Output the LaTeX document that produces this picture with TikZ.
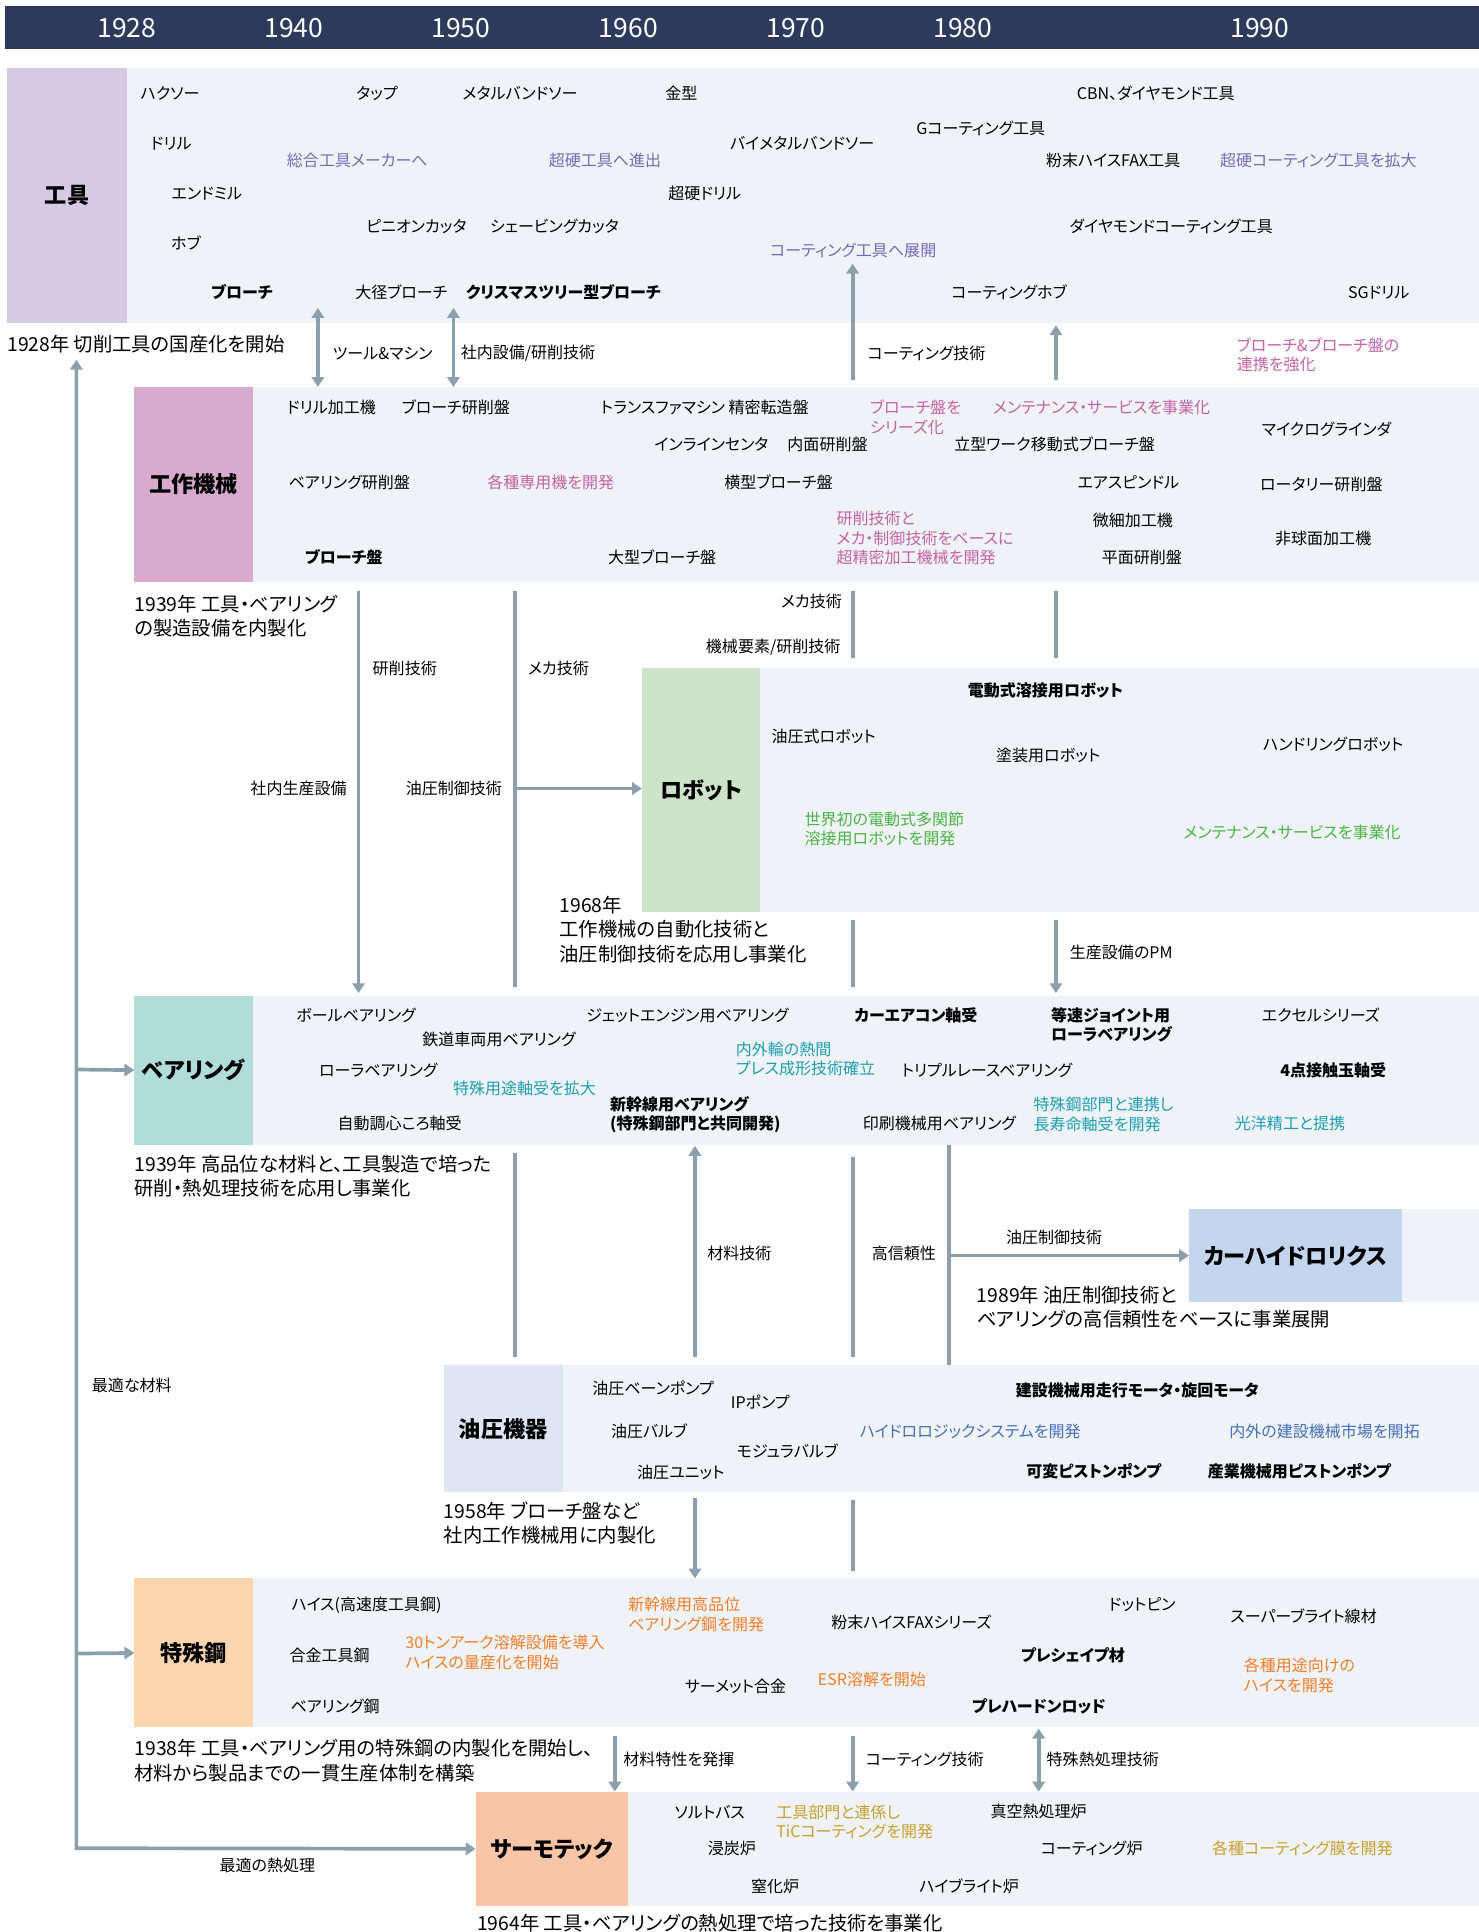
\documentclass[tikz,border=0pt]{standalone}
\usepackage{fontspec}
\setmainfont{Noto Sans CJK JP}[RawFeature=+palt]
\usetikzlibrary{arrows.meta}
\definecolor{cHead}{RGB}{46,58,92}
\definecolor{cBg}{RGB}{239,243,247}
\definecolor{cLine}{RGB}{139,159,172}
\definecolor{bTool}{RGB}{213,201,227}
\definecolor{bMach}{RGB}{215,170,206}
\definecolor{bRobo}{RGB}{205,228,202}
\definecolor{bBear}{RGB}{176,220,218}
\definecolor{bCarH}{RGB}{196,214,238}
\definecolor{bHyd}{RGB}{220,230,244}
\definecolor{bSteel}{RGB}{251,213,174}
\definecolor{bTherm}{RGB}{248,198,166}
\definecolor{xTool}{RGB}{123,104,184}
\definecolor{xMach}{RGB}{196,98,166}
\definecolor{xRobo}{RGB}{76,180,71}
\definecolor{xBear}{RGB}{30,158,178}
\definecolor{xHyd}{RGB}{70,112,186}
\definecolor{xSteel}{RGB}{240,127,42}
\definecolor{xTherm}{RGB}{201,160,46}
\begin{document}
\begin{tikzpicture}[x=1pt,y=-1pt,
  t/.style={font=\fontsize{13}{16}\selectfont, inner sep=0pt},
  tb/.style={font=\fontsize{13}{16}\selectfont\bfseries, inner sep=0pt},
  ml/.style={align=left, anchor=west},
  note/.style={font=\fontsize{15.7}{19.7}\selectfont, inner sep=0pt, align=left, anchor=west},
  box/.style={inner sep=0pt, outer sep=0pt, anchor=north west, draw=none, font=\fontsize{18}{22}\selectfont\bfseries},
  yr/.style={font=\fontsize{21.5}{24}\selectfont, text=white, inner sep=0pt},
  conn/.style={draw=cLine, line width=3pt},
  arr/.style={conn, -{Triangle[width=10pt,length=8pt]}},
  darr/.style={conn, {Triangle[width=10pt,length=8pt]}-{Triangle[width=10pt,length=8pt]}},
]
\useasboundingbox (0,0) rectangle (1200,1568);

% header
\node[box, fill=cHead, minimum width=1196pt, minimum height=35pt] (head) at (4,5) {};
\node[yr] (y1) at (103,22.6) {1928};
\node[yr] (y2) at (238.5,22.6) {1940};
\node[yr] (y3) at (374,22.6) {1950};
\node[yr] (y4) at (510,22.6) {1960};
\node[yr] (y5) at (646,22.6) {1970};
\node[yr] (y6) at (781.5,22.6) {1980};
\node[yr] (y7) at (1022.5,22.6) {1990};

% section boxes
\node[box, fill=cBg, minimum width=1097pt, minimum height=207pt] (toolbg) at (103,55) {};
\node[box, fill=bTool, minimum width=97pt, minimum height=207pt] (tool) at (6,55) {工具};
\node[box, fill=cBg, minimum width=995pt, minimum height=158pt] (machbg) at (205,314) {};
\node[box, fill=bMach, minimum width=96pt, minimum height=158pt] (mach) at (109,314) {工作機械};
\node[box, fill=cBg, minimum width=583pt, minimum height=198pt] (robobg) at (617,542) {};
\node[box, fill=bRobo, minimum width=96pt, minimum height=198pt] (robo) at (521,542) {ロボット};
\node[box, fill=cBg, minimum width=995pt, minimum height=121pt] (bearbg) at (205,808) {};
\node[box, fill=bBear, minimum width=96pt, minimum height=121pt] (bear) at (109,808) {ベアリング};
\node[box, fill=cBg, minimum width=62pt, minimum height=76pt] (carhbg) at (1138,981) {};
\node[box, fill=bCarH, minimum width=173pt, minimum height=76pt] (carh) at (965,981) {カーハイドロリクス};
\node[box, fill=cBg, minimum width=743pt, minimum height=103pt] (hydbg) at (457,1108) {};
\node[box, fill=bHyd, minimum width=97pt, minimum height=103pt] (hyd) at (360,1108) {油圧機器};
\node[box, fill=cBg, minimum width=995pt, minimum height=121pt] (steelbg) at (205,1281) {};
\node[box, fill=bSteel, minimum width=96pt, minimum height=121pt] (steel) at (109,1281) {特殊鋼};
\node[box, fill=cBg, minimum width=690pt, minimum height=93pt] (thermbg) at (510,1454) {};
\node[box, fill=bTherm, minimum width=124pt, minimum height=93pt] (therm) at (386,1454) {サーモテック};

% tools
\node[t] (k1) at (138,76) {ハクソー};
\node[t] (k2) at (306,76) {タップ};
\node[t] (k3) at (422,76) {メタルバンドソー};
\node[t] (k4) at (553,76) {金型};
\node[t] (k5) at (938,76) {CBN、ダイヤモンド工具};
\node[t] (k6) at (796,104) {Gコーティング工具};
\node[t] (k7) at (139,117) {ドリル};
\node[t] (k8) at (651,116) {バイメタルバンドソー};
\node[t,text=xTool] (k9) at (290,130.5) {総合工具メーカーへ};
\node[t,text=xTool] (k10) at (491,130.5) {超硬工具へ進出};
\node[t] (k11) at (903.5,130.5) {粉末ハイスFAX工具};
\node[t,text=xTool] (k12) at (1070,130.5) {超硬コーティング工具を拡大};
\node[t] (k13) at (168,157) {エンドミル};
\node[t] (k14) at (572,157) {超硬ドリル};
\node[t] (k15) at (338,184) {ピニオンカッタ};
\node[t] (k16) at (450,184) {シェービングカッタ};
\node[t] (k17) at (950.5,184) {ダイヤモンドコーティング工具};
\node[t] (k18) at (151,197) {ホブ};
\node[t,text=xTool] (k19) at (692.5,203) {コーティング工具へ展開};
\node[tb] (k20) at (196.5,237.3) {ブローチ};
\node[t] (k21) at (325.7,237.3) {大径ブローチ};
\node[tb] (k22) at (457.3,237.3) {クリスマスツリー型ブローチ};
\node[t] (k23) at (819,237.3) {コーティングホブ};
\node[t] (k24) at (1119,237.3) {SGドリル};

% tools -> machine connectors
\coordinate (c1a) at (258,250); \coordinate (c1b) at (258,314);
\coordinate (c2a) at (368,250); \coordinate (c2b) at (368,314);
\coordinate (c3a) at (692,308.5); \coordinate (c3b) at (692,214);
\coordinate (c4a) at (857,308.5); \coordinate (c4b) at (857,264);
\draw[darr] (c1a) -- (c1b);
\draw[darr] (c2a) -- (c2b);
\draw[arr] (c3a) -- (c3b);
\draw[arr] (c4a) -- (c4b);
\node[t] (l1) at (310.6,287) {ツール\&マシン};
\node[t] (l2) at (428.5,287) {社内設備/研削技術};
\node[t] (l3) at (752,287) {コーティング技術};
\node[t,ml,text=xMach] (l4) at (1003.6,288) {ブローチ\&ブローチ盤の\\連携を強化};
\node[note] (n1928) at (5.7,279) {1928年 切削工具の国産化を開始};

% left spine
\coordinate (sTop) at (62,292);
\coordinate (sBot) at (62,1500);
\coordinate (sBear) at (62,868);
\coordinate (sSteel) at (62,1342);
\draw[darr] (sTop) -- (sBot) -- (therm.west);
\draw[arr] (sBear) -- (bear.west);
\draw[arr] (sSteel) -- (steel.west);
\node[t] (l5) at (107,1124.5) {最適な材料};
\node[t] (l6) at (217,1514) {最適の熱処理};

% machine tools
\node[t] (m1) at (269,330.7) {ドリル加工機};
\node[t] (m2) at (370,330.7) {ブローチ研削盤};
\node[t] (m3) at (572,330.7) {トランスファマシン 精密転造盤};
\node[t,ml,text=xMach] (m4) at (706,338.5) {ブローチ盤を\\シリーズ化};
\node[t,text=xMach] (m5) at (894,330.5) {メンテナンス・サービスを事業化};
\node[t] (m6) at (577.4,360.5) {インラインセンタ};
\node[t] (m7) at (671.6,360.5) {内面研削盤};
\node[t] (m8) at (855.9,360.5) {立型ワーク移動式ブローチ盤};
\node[t] (m9) at (1076.6,348.6) {マイクログラインダ};
\node[t] (m10) at (283.5,391.6) {ベアリング研削盤};
\node[t,text=xMach] (m11) at (447,391.6) {各種専用機を開発};
\node[t] (m12) at (631.8,391.6) {横型ブローチ盤};
\node[t] (m13) at (915.8,391.6) {エアスピンドル};
\node[t] (m14) at (1072.4,393) {ロータリー研削盤};
\node[t,ml,text=xMach] (m15) at (678.8,436.8) {研削技術と\\メカ・制御技術をベースに\\超精密加工機械を開発};
\node[t] (m16) at (919.5,422.2) {微細加工機};
\node[t] (m17) at (1073.9,437) {非球面加工機};
\node[tb] (m18) at (279,452.3) {ブローチ盤};
\node[t] (m19) at (537.4,452.3) {大型ブローチ盤};
\node[t] (m20) at (926.8,452.3) {平面研削盤};
\node[note] (n1939a) at (109,500) {1939年 工具・ベアリング\\の製造設備を内製化};

% machine -> below connectors
\coordinate (d1a) at (291,480); \coordinate (d1b) at (291,806);
\coordinate (d2a) at (418,480); \coordinate (d2b) at (418,801); \coordinate (d2m) at (418,640);
\coordinate (d3a) at (692,480); \coordinate (d3b) at (692,534);
\coordinate (d4a) at (857,480); \coordinate (d4b) at (857,534);
\draw[arr] (d1a) -- (d1b);
\draw[conn] (d2a) -- (d2b);
\draw[arr] (d2m) -- (robo.west |- d2m);
\draw[conn] (d3a) -- (d3b);
\draw[conn] (d4a) -- (d4b);
\node[t] (l7) at (328.5,542.6) {研削技術};
\node[t] (l8) at (453.3,542.6) {メカ技術};
\node[t] (l9) at (242.3,640) {社内生産設備};
\node[t] (l10) at (368.4,640) {油圧制御技術};
\node[t] (l11) at (658.5,488.5) {メカ技術};
\node[t] (l12) at (627.5,525.5) {機械要素/研削技術};

% robot
\node[tb] (r1) at (848.5,560) {電動式溶接用ロボット};
\node[t] (r2) at (668.5,598) {油圧式ロボット};
\node[t] (r3) at (850.7,613) {塗装用ロボット};
\node[t] (r4) at (1082,604) {ハンドリングロボット};
\node[t,ml,text=xRobo] (r5) at (652.8,672.8) {世界初の電動式多関節\\溶接用ロボットを開発};
\node[t,text=xRobo] (r6) at (1048.6,675.5) {メンテナンス・サービスを事業化};
\node[note] (n1968) at (454,754.4) {1968年\\工作機械の自動化技術と\\油圧制御技術を応用し事業化};

\coordinate (e1a) at (692,747); \coordinate (e1b) at (692,801);
\coordinate (e2a) at (857,747); \coordinate (e2b) at (857,806);
\draw[conn] (e1a) -- (e1b);
\draw[arr] (e2a) -- (e2b);
\node[t] (l13) at (910,772.7) {生産設備のPM};

% bearing
\node[t] (b1) at (289,824) {ボールベアリング};
\node[t] (b2) at (405,844) {鉄道車両用ベアリング};
\node[t] (b3) at (558,824) {ジェットエンジン用ベアリング};
\node[tb] (b4) at (743.4,824) {カーエアコン軸受};
\node[tb,ml] (b5) at (852.8,831.8) {等速ジョイント用\\ローラベアリング};
\node[t] (b6) at (1072,824) {エクセルシリーズ};
\node[t] (b7) at (307,868.7) {ローラベアリング};
\node[t,ml,text=xBear] (b8) at (597,859.4) {内外輪の熱間\\プレス成形技術確立};
\node[t] (b9) at (801,868.7) {トリプルレースベアリング};
\node[tb] (b10) at (1082,868.7) {4点接触玉軸受};
\node[t,text=xBear] (b11) at (425.7,883.5) {特殊用途軸受を拡大};
\node[tb,ml] (b12) at (495,904.5) {新幹線用ベアリング\\(特殊鋼部門と共同開発)};
\node[t] (b13) at (324.4,912) {自動調心ころ軸受};
\node[t] (b14) at (762.4,912) {印刷機械用ベアリング};
\node[t,ml,text=xBear] (b15) at (838.7,904.7) {特殊鋼部門と連携し\\長寿命軸受を開発};
\node[t,text=xBear] (b16) at (1047,912) {光洋精工と提携};
\node[note] (n1939b) at (109,954.6) {1939年 高品位な材料と、工具製造で培った\\研削・熱処理技術を応用し事業化};

\coordinate (f1a) at (418,936); \coordinate (f1b) at (418,1101);
\coordinate (f2a) at (564,1101); \coordinate (f2b) at (564,930);
\coordinate (f3a) at (692,939); \coordinate (f3b) at (692,1101);
\coordinate (f4a) at (770,929); \coordinate (f4b) at (770,1108); \coordinate (f4m) at (770,1019);
\draw[conn] (f1a) -- (f1b);
\draw[arr] (f2a) -- (f2b);
\draw[conn] (f3a) -- (f3b);
\draw[conn] (f4a) -- (f4b);
\draw[arr] (f4m) -- (carh.west);
\node[t] (l14) at (600,1017) {材料技術};
\node[t] (l15) at (733.5,1017.6) {高信頼性};
\node[t] (l16) at (855.5,1004) {油圧制御技術};
\node[note] (n1989) at (792.6,1060.8) {1989年 油圧制御技術と\\ベアリングの高信頼性をベースに事業展開};

% hydraulics
\node[t] (h1) at (530,1127) {油圧ベーンポンプ};
\node[t] (h2) at (617,1138) {IPポンプ};
\node[t] (h3) at (526.8,1161.5) {油圧バルブ};
\node[t] (h4) at (639,1177.8) {モジュラバルブ};
\node[t] (h5) at (552.6,1194.8) {油圧ユニット};
\node[tb] (h6) at (923,1128.5) {建設機械用走行モータ・旋回モータ};
\node[t,text=xHyd] (h7) at (787.4,1161.8) {ハイドロロジックシステムを開発};
\node[t,text=xHyd] (h8) at (1075,1161.8) {内外の建設機械市場を開拓};
\node[tb] (h9) at (887.7,1194) {可変ピストンポンプ};
\node[tb] (h10) at (1054.5,1194) {産業機械用ピストンポンプ};
\node[note] (n1958) at (360,1235.8) {1958年 ブローチ盤など\\社内工作機械用に内製化};

\coordinate (g1a) at (564,1216); \coordinate (g1b) at (564,1281);
\coordinate (g2a) at (692,1217); \coordinate (g2b) at (692,1275);
\draw[arr] (g1a) -- (g1b);
\draw[conn] (g2a) -- (g2b);

% special steel
\node[t] (s1) at (297.5,1303) {ハイス(高速度工具鋼)};
\node[t,ml,text=xSteel] (s2) at (509.6,1310.5) {新幹線用高品位\\ベアリング鋼を開発};
\node[t] (s3) at (739.6,1316.6) {粉末ハイスFAXシリーズ};
\node[t] (s4) at (927,1302) {ドットピン};
\node[t] (s5) at (1058,1312) {スーパーブライト線材};
\node[t] (s6) at (267.5,1343.6) {合金工具鋼};
\node[t,ml,text=xSteel] (s7) at (328.8,1341) {30トンアーク溶解設備を導入\\ハイスの量産化を開始};
\node[tb] (s8) at (870.8,1343.6) {プレシェイプ材};
\node[t,ml,text=xSteel] (s9) at (1009.3,1360) {各種用途向けの\\ハイスを開発};
\node[t] (s10) at (597,1368.8) {サーメット合金};
\node[t,text=xSteel] (s11) at (707.6,1362.6) {ESR溶解を開始};
\node[t] (s12) at (272,1385) {ベアリング鋼};
\node[tb] (s13) at (843,1385) {プレハードンロッド};
\node[note] (n1938) at (109,1428.9) {1938年 工具・ベアリング用の特殊鋼の内製化を開始し、\\材料から製品までの一貫生産体制を構築};

\coordinate (p1a) at (499,1409); \coordinate (p1b) at (499,1454);
\coordinate (p2a) at (692,1409); \coordinate (p2b) at (692,1454);
\coordinate (p3a) at (843,1403); \coordinate (p3b) at (843,1454);
\draw[arr] (p1a) -- (p1b);
\draw[arr] (p2a) -- (p2b);
\draw[darr] (p3a) -- (p3b);
\node[t] (l17) at (551,1428) {材料特性を発揮};
\node[t] (l18) at (750.5,1428) {コーティング技術};
\node[t] (l19) at (895,1428) {特殊熱処理技術};

% thermotech
\node[t] (q1) at (576,1470.8) {ソルトバス};
\node[t,ml,text=xTherm] (q2) at (629.9,1478.6) {工具部門と連係し\\TiCコーティングを開発};
\node[t] (q3) at (843,1470) {真空熱処理炉};
\node[t] (q4) at (594,1500.4) {浸炭炉};
\node[t] (q5) at (886,1500.4) {コーティング炉};
\node[t,text=xTherm] (q6) at (1057,1500.4) {各種コーティング膜を開発};
\node[t] (q7) at (629,1531) {窒化炉};
\node[t] (q8) at (786.5,1531) {ハイブライト炉};
\node[note] (n1964) at (387,1560.5) {1964年 工具・ベアリングの熱処理で培った技術を事業化};

\end{tikzpicture}
\end{document}
